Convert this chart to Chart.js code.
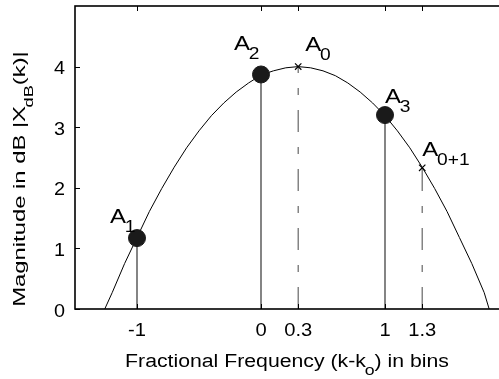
<!DOCTYPE html>
<html>
<head>
<meta charset="utf-8">
<script src="https://cdn.jsdelivr.net/npm/chart.js@4"></script>
<style>
  html, body { margin: 0; padding: 0; background: #fff; overflow: hidden; }
  canvas { display: block; }
</style>
</head>
<body>
<canvas id="chart" width="512" height="379"></canvas>
<script>
// curve
const curveX = [-1.26, -1.2, -1.1, -1.0, -0.9, -0.8, -0.7, -0.6, -0.5, -0.4, -0.3, -0.2, -0.1, 0.0,
                0.1, 0.2, 0.3, 0.4, 0.5, 0.6, 0.7, 0.8, 0.9, 1.0, 1.1, 1.2, 1.3, 1.4, 1.5, 1.6, 1.7, 1.8, 1.84];
const curveY = [0.0, 0.27, 0.75, 1.18, 1.61, 1.99, 2.34, 2.66, 2.94, 3.19, 3.40, 3.58, 3.73, 3.86,
                3.93, 3.98, 4.0, 3.98, 3.93, 3.85, 3.73, 3.58, 3.40, 3.19, 2.94, 2.66, 2.34, 1.99, 1.61, 1.18, 0.75, 0.27, 0.0];

// measured bins (dots with solid stems)
const binX = [-1, 0, 1];
const binY = [1.17, 3.87, 3.2];

// true peak and next bin (crosses with dashed stems)
const peakX = [0.3, 1.3];
const peakY = [4.0, 2.33];

const xTicks = [-1, 0, 0.3, 1, 1.3];
const yTicks = [0, 1, 2, 3, 4];

const labelSub = ['1', '2', '0', '3', '0+1'];
const labelX = [-1, 0, 0.3, 1, 1.3];
const labelY = [1.17, 3.87, 4.0, 3.2, 2.33];

const FONT = '"Liberation Sans", Arial, sans-serif';

const datasets = [];
datasets.push({
    data: curveX.map((x, i) => ({x: x, y: curveY[i]})),
    borderColor: '#000', borderWidth: 1, pointRadius: 0, tension: 0, order: 5
});
binX.forEach((x, i) => {
    datasets.push({
        data: [{x: x, y: 0}, {x: x, y: binY[i]}],
        borderColor: '#333', borderWidth: 1.2, pointRadius: 0, order: 4
    });
});
peakX.forEach((x, i) => {
    datasets.push({
        data: [{x: x, y: 0}, {x: x, y: peakY[i]}],
        borderColor: '#666', borderWidth: 1.2, borderDash: [22, 15, 7, 15], pointRadius: 0, order: 4
    });
});
datasets.push({
    data: binX.map((x, i) => ({x: x, y: binY[i]})),
    showLine: false, pointRadius: 8.5, pointBorderWidth: 1,
    pointBackgroundColor: '#1a1a1a', pointBorderColor: '#1a1a1a', order: 1
});
datasets.push({
    data: peakX.map((x, i) => ({x: x, y: peakY[i]})),
    showLine: false, pointStyle: 'crossRot', pointRadius: 4.5, pointBorderColor: '#000', pointBorderWidth: 1.2, order: 1
});

// text stretched along its direction, parts may be subscripts
function drawParts(ctx, parts, x, y, size, sx, align, subSize, subDrop) {
    let w = 0;
    parts.forEach(p => {
        ctx.font = (p.sub ? subSize : size) + 'px ' + FONT;
        w += ctx.measureText(p.t).width + (p.sub ? -1 : 0);
    });
    ctx.save();
    ctx.translate(x, y);
    ctx.scale(sx, 1);
    let cx = align === 'center' ? -w / 2 : (align === 'right' ? -w : 0);
    ctx.textAlign = 'left';
    ctx.textBaseline = 'alphabetic';
    parts.forEach(p => {
        ctx.font = (p.sub ? subSize : size) + 'px ' + FONT;
        if (p.sub) cx -= 1;
        ctx.fillText(p.t, cx, p.sub ? subDrop : 0);
        cx += ctx.measureText(p.t).width;
    });
    ctx.restore();
}

const frame = {
    id: 'frame',
    afterDraw(chart) {
        const ctx = chart.ctx;
        const a = chart.chartArea;
        const xs = chart.scales.x, ys = chart.scales.y;
        ctx.save();
        ctx.strokeStyle = '#000';
        ctx.lineWidth = 1.6;
        ctx.strokeRect(a.left, a.top, a.right - a.left, a.bottom - a.top);
        ctx.lineWidth = 1;
        ctx.beginPath();
        xTicks.forEach(v => {
            const px = Math.round(xs.getPixelForValue(v)) + 0.5;
            ctx.moveTo(px, a.top); ctx.lineTo(px, a.top + 5);
            ctx.moveTo(px, a.bottom); ctx.lineTo(px, a.bottom - 5);
        });
        yTicks.forEach(v => {
            const py = Math.round(ys.getPixelForValue(v)) + 0.5;
            ctx.moveTo(a.left, py); ctx.lineTo(a.left + 5, py);
            ctx.moveTo(a.right, py); ctx.lineTo(a.right - 5, py);
        });
        ctx.stroke();

        ctx.fillStyle = '#000';
        // tick labels
        xTicks.forEach(v => {
            drawParts(ctx, [{t: String(v)}], xs.getPixelForValue(v), a.bottom + 27, 18, 1.12, 'center');
        });
        yTicks.forEach(v => {
            drawParts(ctx, [{t: String(v)}], a.left - 10, ys.getPixelForValue(v) + 7.5, 18, 1.1, 'right');
        });

        // point labels
        const off = [[-27, -15], [-27, -24], [7, -16], [0, -12], [0, -12]];
        labelSub.forEach((s, i) => {
            const px = xs.getPixelForValue(labelX[i]) + off[i][0];
            const py = ys.getPixelForValue(labelY[i]) + off[i][1];
            drawParts(ctx, [{t: 'A'}, {t: s, sub: true}], px, py, 20, 1.2, 'left', 16, 9);
        });

        // axis titles
        drawParts(ctx, [{t: 'Fractional Frequency (k-k'}, {t: 'o', sub: true}, {t: ') in bins'}],
            287, 367, 18, 1.18, 'center', 15, 8);
        ctx.translate(25, 179);
        ctx.rotate(-Math.PI / 2);
        drawParts(ctx, [{t: 'Magnitude in dB |X'}, {t: 'dB', sub: true}, {t: '(k)|'}], 0, 0, 17, 1.4, 'center', 13, 8);
        ctx.restore();
    }
};

new Chart(document.getElementById('chart'), {
    type: 'line',
    data: {datasets: datasets},
    options: {
        responsive: false,
        animation: false,
        layout: {autoPadding: false, padding: {top: 6, right: 3, left: 75, bottom: 70}},
        plugins: {legend: {display: false}, tooltip: {enabled: false}},
        scales: {
            x: {type: 'linear', min: -1.5, max: 2, display: false},
            y: {type: 'linear', min: 0, max: 5, display: false}
        }
    },
    plugins: [frame]
});
</script>
</body>
</html>
